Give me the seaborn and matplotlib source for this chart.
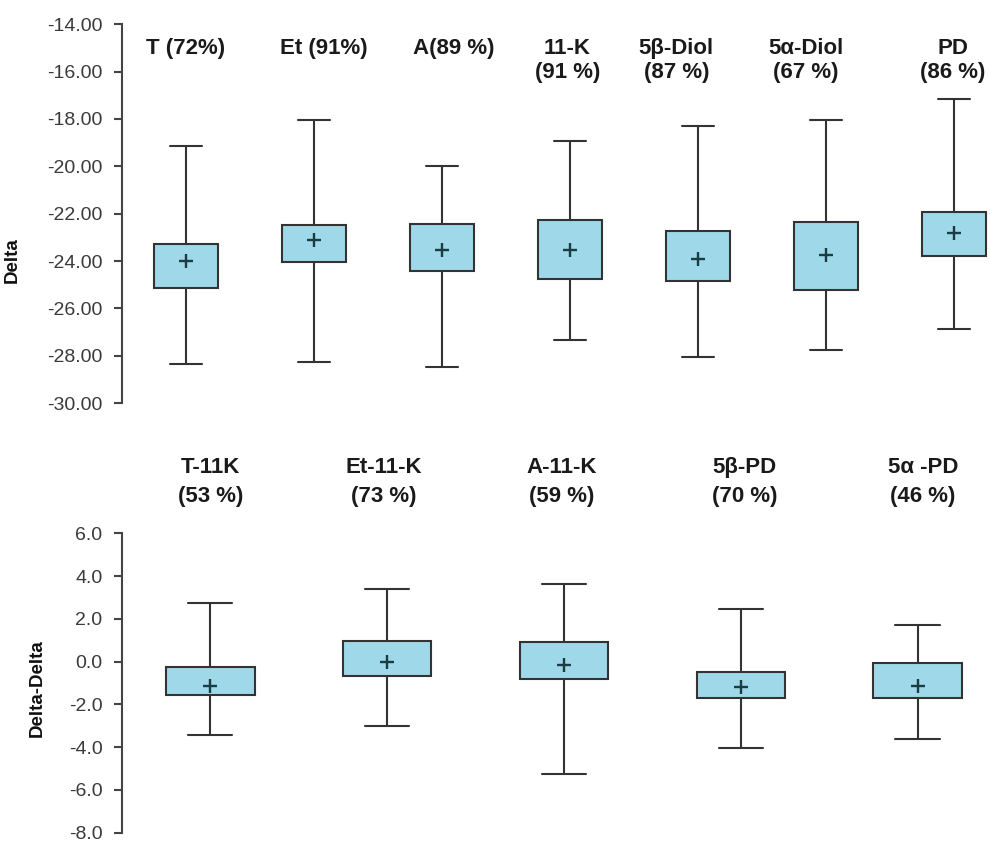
import numpy as np
import pandas as pd
import matplotlib
matplotlib.use("Agg")
import matplotlib.pyplot as plt
import seaborn as sns

# ---------------- data ----------------
top_cats = ["T", "Et", "A", "11-K", "5β-Diol", "5α-Diol", "PD"]
top_labels = ["T (72%)", "Et (91%)", "A(89 %)", "11-K\n(91 %)",
              "5β-Diol\n(87 %)", "5α-Diol\n(67 %)", "PD\n(86 %)"]
top_min = [-28.33, -28.26, -28.47, -27.35, -28.07, -27.74, -26.87]
top_q1 = [-25.14, -24.04, -24.44, -24.76, -24.83, -25.22, -23.79]
top_q3 = [-23.28, -22.48, -22.43, -22.27, -22.75, -22.34, -21.95]
top_max = [-19.16, -18.04, -19.97, -18.91, -18.28, -18.05, -17.14]
top_mean = [-24.02, -23.13, -23.52, -23.52, -23.92, -23.73, -22.82]
top_ticks = [-30, -28, -26, -24, -22, -20, -18, -16, -14]

bot_cats = ["T-11K", "Et-11-K", "A-11-K", "5β-PD", "5α-PD"]
bot_labels = ["T-11K\n(53 %)", "Et-11-K\n(73 %)", "A-11-K\n(59 %)",
              "5β-PD\n(70 %)", "5α -PD\n(46 %)"]
bot_min = [-3.43, -3.00, -5.27, -4.06, -3.61]
bot_q1 = [-1.56, -0.67, -0.81, -1.70, -1.70]
bot_q3 = [-0.27, 0.98, 0.92, -0.47, -0.05]
bot_max = [2.75, 3.40, 3.61, 2.46, 1.73]
bot_mean = [-1.13, -0.03, -0.17, -1.17, -1.13]
bot_ticks = [-8, -6, -4, -2, 0, 2, 4, 6]

# ---------------- style ----------------
sns.set_theme(style="white")
plt.rcParams["font.family"] = ["Liberation Sans", "DejaVu Sans"]
plt.rcParams["axes.unicode_minus"] = False

FILL = "#9fd8e8"
EDGE = "#333333"
MEAN_C = "#1c3c44"
TICK_C = "#3a3a3a"


def long_table(cats, mn, q1, mean, q3, mx):
    rows = []
    for c, a, b, m, d, e in zip(cats, mn, q1, mean, q3, mx):
        for v in (a, b, m, d, e):
            rows.append({"cat": c, "val": v})
    return pd.DataFrame(rows)


def draw_panel(ax, cats, labels, mn, q1, q3, mx, mean, ticks, fmt,
               ylim, xright, label_y, ylabel, label_coords, label_weight,
               label_dx, linesp):
    df = long_table(cats, mn, q1, mean, q3, mx)
    sns.boxplot(data=df, x="cat", y="val", order=cats, whis=(0, 100),
                width=0.5, color=FILL, saturation=1, linecolor=EDGE,
                linewidth=1.5, fliersize=0,
                medianprops={"visible": False}, ax=ax)
    sns.pointplot(x=cats, y=mean, order=cats, linestyle="none",
                  marker="+", color=MEAN_C, markersize=10,
                  markeredgewidth=1.7, errorbar=None, ax=ax)
    ax.set_xlim(-0.5, xright)
    ax.set_ylim(*ylim)
    ax.set_yticks(ticks)
    ax.set_yticklabels([fmt % t for t in ticks])
    ax.set_xticks([])
    ax.set_xlabel("")
    for s in ("top", "right", "bottom"):
        ax.spines[s].set_visible(False)
    ax.spines["left"].set_bounds(ticks[0], ticks[-1])
    ax.spines["left"].set_color("#444444")
    ax.spines["left"].set_linewidth(1.5)
    ax.tick_params(axis="y", direction="out", length=6, width=1.5,
                   color="#444444", labelsize=14, labelcolor=TICK_C, pad=8,
                   left=True)
    ax.set_ylabel(ylabel, fontsize=13.5, fontweight="bold", color="#111111")
    ax.yaxis.set_label_coords(*label_coords)
    for i, (lab, dx) in enumerate(zip(labels, label_dx)):
        ax.text(i + dx, label_y, lab, ha="center", va="top", fontsize=16,
                fontweight=label_weight, color="#1a1a1a", clip_on=False,
                linespacing=linesp)


fig = plt.figure(figsize=(9.9, 8.43), dpi=100)
ax1 = fig.add_axes([0.1232, 0.5219, 1.0 - 0.1232, 0.9712 - 0.5219])
ax2 = fig.add_axes([0.1232, 0.0122, 1.0 - 0.1232, 0.3674 - 0.0122])

draw_panel(ax1, top_cats, top_labels, top_min, top_q1, top_q3, top_max,
           top_mean, top_ticks, "%.2f", (-30, -14), 6.28, -14.6, "Delta",
           (-0.117, 0.378), "bold",
           [0.0, 0.08, 0.09, -0.02, -0.17, -0.16, -0.01], 1.15)
draw_panel(ax2, bot_cats, bot_labels, bot_min, bot_q1, bot_q3, bot_max,
           bot_mean, bot_ticks, "%.1f", (-8, 6), 4.41, 9.55, "Delta-Delta",
           (-0.088, 0.483), "bold",
           [0.0, -0.02, -0.01, 0.02, 0.03], 1.5)

fig.savefig("out.png", dpi=100)
